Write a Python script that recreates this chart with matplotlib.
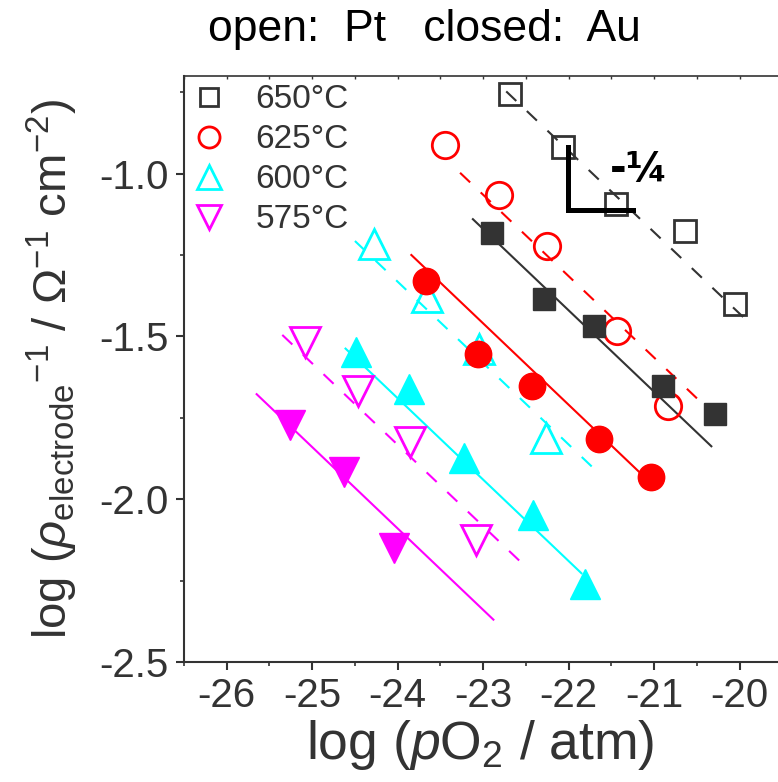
import numpy as np
import matplotlib
matplotlib.use("Agg")
import matplotlib.pyplot as plt
from matplotlib.ticker import MultipleLocator

plt.rcParams['font.family'] = ['Liberation Sans', 'DejaVu Sans']
plt.rcParams['axes.unicode_minus'] = False
plt.rcParams['lines.scale_dashes'] = False
plt.rcParams['mathtext.fontset'] = 'custom'
plt.rcParams['mathtext.rm'] = 'Liberation Sans'
plt.rcParams['mathtext.it'] = 'Liberation Sans:italic'

# temperatures (legend labels)
temps = ['650°C', '625°C', '600°C', '575°C']
colors = ['#333333', '#ff0000', '#00ffff', '#ff00ff']
markers = ['s', 'o', '^', 'v']

# open symbols: Pt
pt_x = [[-22.68, -22.07, -21.44, -20.64, -20.05],
        [-23.45, -22.81, -22.25, -21.43, -20.84],
        [-24.28, -23.66, -23.05, -22.26],
        [-25.09, -24.47, -23.86, -23.08]]
pt_y = [[-0.755, -0.918, -1.094, -1.177, -1.402],
        [-0.912, -1.066, -1.223, -1.482, -1.715],
        [-1.217, -1.380, -1.540, -1.811],
        [-1.518, -1.669, -1.823, -2.125]]

# closed symbols: Au
au_x = [[-22.90, -22.29, -21.70, -20.89, -20.29],
        [-23.67, -23.06, -22.43, -21.65, -21.04],
        [-24.49, -23.87, -23.22, -22.42, -21.81],
        [-25.26, -24.63, -24.04]]
au_y = [[-1.183, -1.386, -1.469, -1.651, -1.737],
        [-1.331, -1.555, -1.651, -1.814, -1.931],
        [-1.549, -1.663, -1.875, -2.048, -2.260],
        [-1.771, -1.915, -2.149]]

# fits with slope -1/4: y = slope*x + b, drawn over [x0, x1]
slope = -0.25
pt_b = [-6.430, -6.815, -7.332, -7.833]
pt_range = [(-22.73, -19.94), (-23.27, -20.49), (-24.50, -21.73), (-25.35, -22.56)]
au_b = [-6.920, -7.210, -7.690, -8.090]
au_range = [(-23.12, -20.33), (-23.84, -21.12), (-24.61, -21.85), (-25.65, -22.88)]

msizes = [16, 19, 22, 22]

fig = plt.figure(figsize=(7.78, 7.82), dpi=100)
ax = fig.add_axes([0.2365, 0.1535, 0.780, 0.7494])

for i in range(4):
    c = colors[i]
    x0, x1 = pt_range[i]
    xs = np.array([x0, x1])
    ax.plot(xs, slope * xs + pt_b[i], color=c, lw=1.5, dashes=(10, 10.5), zorder=2)
    x0, x1 = au_range[i]
    xs = np.array([x0, x1])
    ax.plot(xs, slope * xs + au_b[i], color=c, lw=1.5, zorder=2)
    ax.plot(pt_x[i], pt_y[i], ls='none', marker=markers[i], ms=msizes[i],
            mfc='none', mec=c, mew=2.0, label=temps[i], zorder=3)
    ax.plot(au_x[i], au_y[i], ls='none', marker=markers[i], ms=msizes[i],
            mfc=c, mec=c, mew=1.0, zorder=4)

# slope triangle
ax.plot([-22.01, -22.01, -21.25], [-0.918, -1.112, -1.112], color='black',
        lw=3.6, solid_joinstyle='miter', zorder=5)
ax.text(-21.17, -0.99, '-¼', fontsize=29, fontweight='bold', ha='center',
        va='center', color='black', family='DejaVu Sans')

ax.set_xlim(-26.5, -19.4)
ax.set_ylim(-2.5, -0.7)
ax.xaxis.set_major_locator(MultipleLocator(1))
ax.xaxis.set_minor_locator(MultipleLocator(0.5))
ax.yaxis.set_major_locator(MultipleLocator(0.5))
ax.yaxis.set_minor_locator(MultipleLocator(0.25))
ax.yaxis.set_major_formatter(matplotlib.ticker.FormatStrFormatter('%.1f'))

gray = '#333333'
for s in ['left', 'bottom']:
    ax.spines[s].set_color(gray)
    ax.spines[s].set_linewidth(1.5)
ax.spines['right'].set_visible(False)
ax.spines['top'].set_visible(False)
ax.tick_params(which='major', length=6, width=1.5, color=gray, labelsize=29,
               labelcolor=gray, pad=5)
ax.tick_params(which='minor', length=3, width=1.2, color=gray)

top = ax.secondary_xaxis('top')
top.spines['top'].set_color(gray)
top.spines['top'].set_linewidth(1.2)
top.xaxis.set_major_locator(MultipleLocator(0.5))
top.tick_params(direction='in', length=2, width=1, color=gray, labeltop=False)

ax.set_xlabel(r'log ($p$O$_2$ / atm)', fontsize=38.5, color=gray)
ax.xaxis.set_label_coords(0.4877, -0.095)
ax.set_ylabel(r'log ($\rho_{\mathrm{electrode}}{}^{-1}$ / $\Omega^{-1}$ cm$^{-2}$)',
              fontsize=34, color=gray, labelpad=14)

leg = ax.legend(loc='upper left', frameon=False, fontsize=24, markerscale=0.8,
                handletextpad=0.9, labelspacing=0.27, borderaxespad=0.0,
                handlelength=1.0, borderpad=0.25)
for t in leg.get_texts():
    t.set_color(gray)

fig.text(424 / 778, 1 - 30 / 782, 'open:  Pt   closed:  Au', fontsize=32,
         ha='center', va='center', color='black')

fig.savefig('out.png', dpi=100)
